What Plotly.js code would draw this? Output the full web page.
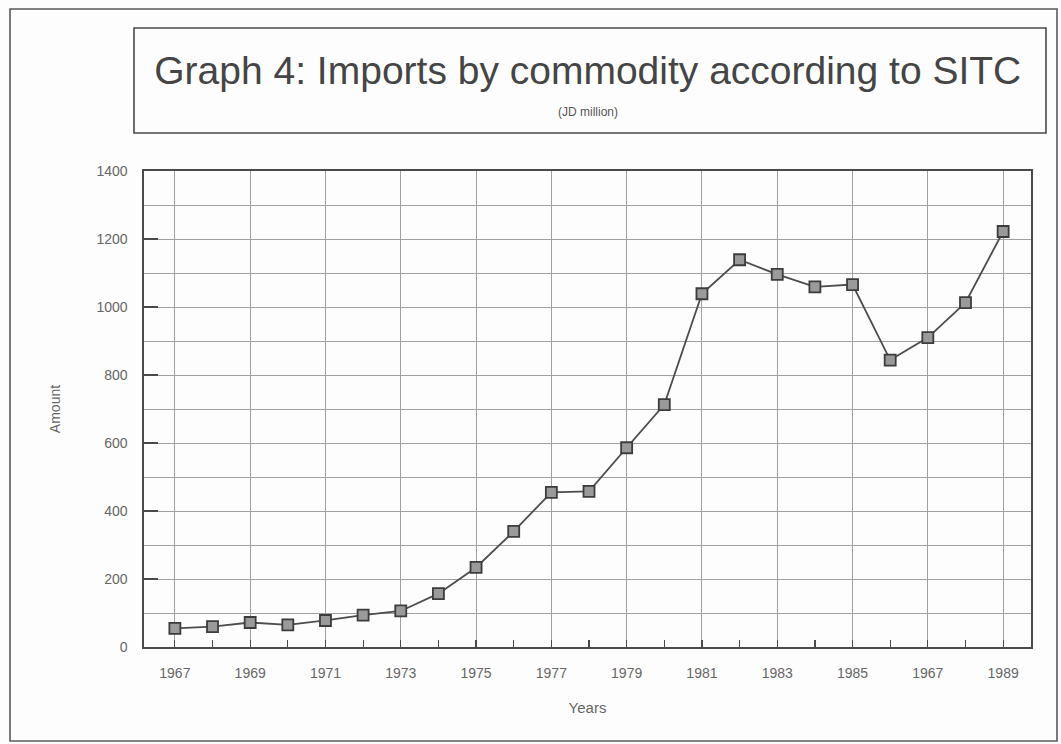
<!DOCTYPE html>
<html>
<head>
<meta charset="utf-8">
<script src="https://cdn.plot.ly/plotly-3.0.1.min.js"></script>
<style>
  html, body { margin: 0; padding: 0; background: #fdfdfd; }
  #chart { width: 1061px; height: 744px; }
</style>
</head>
<body>
<div id="chart"></div>
<script>
// Imports by commodity (JD million), 1967-1989
const years = [1967, 1968, 1969, 1970, 1971, 1972, 1973, 1974, 1975, 1976, 1977, 1978,
               1979, 1980, 1981, 1982, 1983, 1984, 1985, 1986, 1987, 1988, 1989];
const imports = [55, 60, 72, 65, 78, 94, 106, 157, 234, 340, 455, 458,
                 586, 713, 1039, 1139, 1096, 1059, 1066, 844, 910, 1013, 1222];

const xTickVals = [1967, 1969, 1971, 1973, 1975, 1977, 1979, 1981, 1983, 1985, 1987, 1989];
const xTickText = ['1967', '1969', '1971', '1973', '1975', '1977', '1979', '1981', '1983', '1985', '1967', '1989'];
const yTickVals = [0, 200, 400, 600, 800, 1000, 1200, 1400];

const ink = '#4a4a4a';
const gridCol = '#a0a0a0';
const labelCol = '#666666';

const trace = {
  x: years,
  y: imports,
  type: 'scatter',
  mode: 'lines+markers',
  line: { color: '#4c4c4c', width: 1.8 },
  marker: { symbol: 'square', size: 11, color: '#9a9a9a', line: { color: '#3c3c3c', width: 1.8 } },
  hoverinfo: 'x+y'
};

const layout = {
  width: 1061,
  height: 744,
  margin: { l: 144, r: 30, t: 171, b: 97 },
  paper_bgcolor: '#fdfdfd',
  plot_bgcolor: '#fdfdfd',
  showlegend: false,
  font: { family: 'Liberation Sans, Arial, sans-serif', color: labelCol },
  title: {
    text: 'Graph 4: Imports by commodity according to SITC',
    x: 0.554, xref: 'container', xanchor: 'center',
    y: 1 - 70 / 744, yref: 'container', yanchor: 'middle',
    font: { family: 'Liberation Sans, Arial, sans-serif', size: 39, color: '#454545' }
  },
  xaxis: {
    range: [1966.18, 1989.74],
    tickmode: 'array',
    tickvals: xTickVals,
    ticktext: xTickText,
    ticks: 'inside', ticklen: 7, tickcolor: ink, tickwidth: 1.2,
    ticklabelstandoff: 13,
    tickfont: { size: 14, color: labelCol },
    showgrid: true, gridcolor: gridCol, gridwidth: 1,
    minor: { dtick: 1, ticks: 'inside', ticklen: 7, tickcolor: ink, showgrid: false },
    showline: true, linecolor: ink, linewidth: 1.6, mirror: true,
    zeroline: false,
    title: { text: 'Years', font: { size: 15, color: labelCol }, standoff: 22 }
  },
  yaxis: {
    range: [0, 1400],
    tickmode: 'array',
    tickvals: yTickVals,
    ticks: 'inside', ticklen: 14, tickcolor: ink, tickwidth: 1.6,
    ticklabelstandoff: 12,
    tickfont: { size: 14, color: labelCol },
    showgrid: true, gridcolor: gridCol, gridwidth: 1,
    minor: { dtick: 100, showgrid: true, gridcolor: gridCol, gridwidth: 1 },
    showline: true, linecolor: ink, linewidth: 1.6, mirror: true,
    zeroline: false,
    title: { text: 'Amount', font: { size: 14, color: labelCol }, standoff: 32 }
  },
  annotations: [
    {
      text: '(JD million)', xref: 'paper', yref: 'paper',
      x: 0.5006, y: (647 - 112) / 476, xanchor: 'center', yanchor: 'middle',
      showarrow: false, font: { size: 12, color: '#555555' }
    }
  ],
  shapes: [
    // outer frame
    { type: 'rect', xref: 'paper', yref: 'paper',
      x0: (10 - 144) / 887, x1: (1057 - 144) / 887,
      y0: (647 - 741) / 476, y1: (647 - 9) / 476,
      line: { color: '#5a5a5a', width: 1.6 } },
    // title box
    { type: 'rect', xref: 'paper', yref: 'paper',
      x0: (134 - 144) / 887, x1: (1046 - 144) / 887,
      y0: (647 - 133) / 476, y1: (647 - 28) / 476,
      line: { color: '#4a4a4a', width: 1.6 } }
  ]
};

Plotly.newPlot('chart', [trace], layout, { displayModeBar: false, staticPlot: true });
</script>
</body>
</html>
